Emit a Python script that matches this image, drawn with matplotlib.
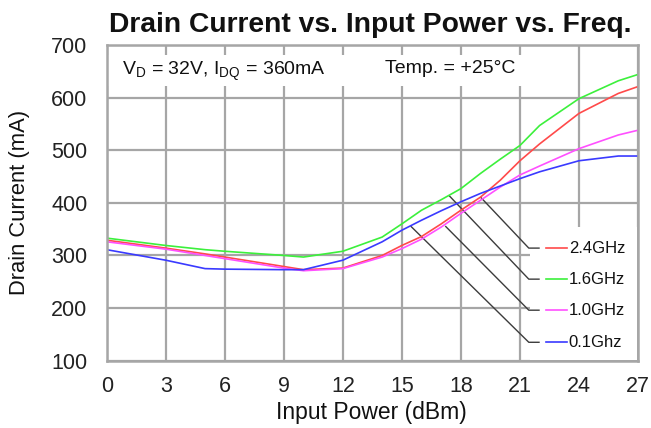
import matplotlib
matplotlib.use("Agg")
import matplotlib.pyplot as plt
from matplotlib.patches import Rectangle

plt.rcParams['font.family'] = ['Liberation Sans', 'DejaVu Sans']

# ---------------- data ----------------
input_power = [0, 3, 5, 6, 9, 10, 12, 14, 15, 16, 17, 18, 19, 20, 21, 22, 24, 26, 27]
i_24ghz = [329, 314, 303, 297, 279, 273, 276, 300, 319, 336, 360, 386, 411, 443, 480, 512, 570, 608, 621]
i_16ghz = [333, 319, 311, 308, 300, 297, 308, 335, 360, 386, 406, 427, 456, 483, 509, 547, 598, 632, 644]
i_10ghz = [326, 312, 300, 294, 276, 271, 275, 297, 313, 331, 354, 380, 405, 430, 453, 470, 503, 529, 538]
i_01ghz = [311, 291, 275, 274, 273, 273, 291, 326, 348, 367, 385, 402, 418, 432, 446, 459, 480, 489, 489]

series_labels = ["2.4GHz", "1.6GHz", "1.0GHz", "0.1Ghz"]
series_colors = ["#ff4a4a", "#3cf03c", "#ff50ff", "#3a3aff"]
series_values = [i_24ghz, i_16ghz, i_10ghz, i_01ghz]

# leader-line anchor points on the curves (data coords) and label rows
leader_x = [19.02, 17.42, 17.23, 15.47]
leader_y = [410, 413, 355, 355]
label_rows = [314, 255, 196, 135]

x_ticks = [0, 3, 6, 9, 12, 15, 18, 21, 24, 27]
y_ticks = [100, 200, 300, 400, 500, 600, 700]

# ---------------- figure ----------------
W, H = 651, 428
fig = plt.figure(figsize=(W / 100, H / 100), dpi=100)
ax_l, ax_r, ax_t, ax_b = 106.7, 638, 45, 360.7
ax = fig.add_axes([ax_l / W, 1 - ax_b / H, (ax_r - ax_l) / W, (ax_b - ax_t) / H])

ax.set_xlim(0, 27)
ax.set_ylim(100, 700)
ax.set_xticks(x_ticks)
ax.set_yticks(y_ticks)
ax.tick_params(length=0, labelsize=15.5, colors="#222222")
ax.tick_params(axis="y", pad=14)
ax.tick_params(axis="x", pad=11)

gcol = "#a6a6a6"
ax.grid(True, color=gcol, linewidth=1.6, zorder=0)
ax.set_axisbelow(True)
for s in ax.spines.values():
    s.set_color(gcol)
    s.set_linewidth(1.8)
    s.set_zorder(6)

# white panels hiding grid
ax.add_patch(Rectangle((0.05, 623), 23.0, 58, facecolor="white", edgecolor="none", zorder=1))
ax.add_patch(Rectangle((21.5, 101.5), 5.45, 253, facecolor="white", edgecolor="none", zorder=1))

for vals, col in zip(series_values, series_colors):
    ax.plot(input_power, vals, color=col, linewidth=1.2, zorder=4)

# leader lines and labels
for lx, ly, row, lab, col in zip(leader_x, leader_y, label_rows, series_labels, series_colors):
    ax.plot([lx, 21.45, 21.97], [ly, row, row], color="#3c3c3c", linewidth=1.0, zorder=3)
    ax.plot([22.31, 23.39], [row, row], color=col, linewidth=1.2, zorder=4)
    ax.text(23.48, row, lab, fontsize=12, va="center", ha="left", color="#111111", zorder=5)

ax.text(0.78, 650, r"V$_\mathregular{D}$ = 32V, I$_\mathregular{DQ}$ = 360mA",
        fontsize=14, va="center", ha="left", color="#111111", zorder=5)
ax.text(14.15, 655, "Temp. = +25°C", fontsize=14, va="center", ha="left",
        color="#111111", zorder=5)

fig.text(370.5 / W, 1 - 32 / H, "Drain Current vs. Input Power vs. Freq.",
         fontsize=20.3, fontweight="bold", ha="center", va="baseline", color="#111111")
fig.text(371 / W, 1 - 413 / H, "Input Power (dBm)", fontsize=16.5,
         ha="center", va="center", color="#111111")
fig.text(20 / W, 1 - 202 / H, "Drain Current (mA)", fontsize=15.8, rotation=90,
         ha="center", va="center", color="#111111")

fig.savefig("out.png", dpi=100, facecolor="white")
